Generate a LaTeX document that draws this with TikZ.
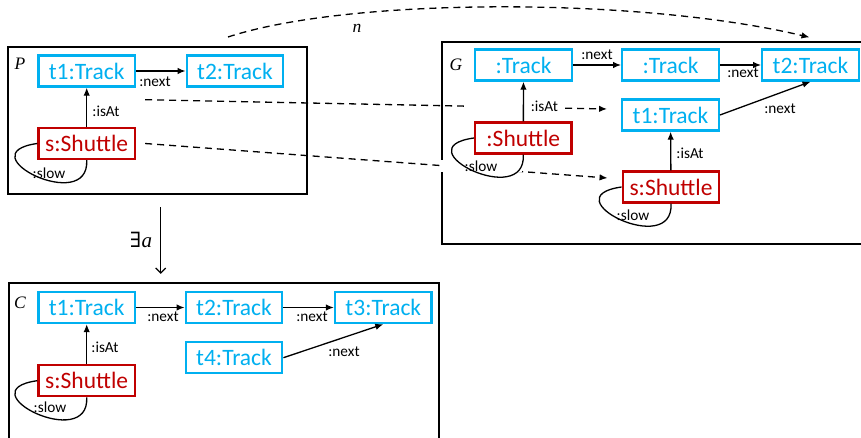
\documentclass[tikz,border=0pt]{standalone}
\usepackage{fontspec}
\setmainfont{Carlito}
\newfontfamily\varfont{Liberation Serif}
\newfontfamily\quantfont{DejaVu Serif}
\usetikzlibrary{arrows.meta}
\definecolor{trackblue}{RGB}{0,176,240}
\definecolor{shuttlered}{RGB}{192,0,0}

\begin{document}
\begin{tikzpicture}[x=1pt,y=-1pt,
  obj/.style={draw, line width=2.4pt, fill=white, minimum width=96.5pt,
    minimum height=31pt, inner sep=0pt, font=\fontsize{23.5}{28}\selectfont},
  track/.style={obj, draw=trackblue, text=trackblue},
  shuttle/.style={obj, draw=shuttlered, text=shuttlered},
  graphframe/.style={draw, line width=1.8pt, inner sep=0pt},
  framelabel/.style={font=\varfont\itshape\fontsize{17.5}{20}\selectfont, inner sep=0pt},
  lbl/.style={font=\fontsize{15.3}{18}\selectfont, inner sep=1pt},
  lblw/.style={lbl, fill=white},
  rel/.style={-{Latex[length=8pt,width=6.5pt]}, line width=1.3pt},
  morph/.style={rel, dash pattern=on 7pt off 5pt},
  loopline/.style={line width=1.3pt}
]
\useasboundingbox (0,0) rectangle (861,438);
\clip (0,0) rectangle (861,438);

% graph frames
\node[graphframe, minimum width=299pt, minimum height=147pt] (Pf) at (157.5,120.5) {};
\node[graphframe, minimum width=488pt, minimum height=202.3pt] (Gf) at (686,142.85) {};
\node[graphframe, minimum width=430pt, minimum height=196.7pt] (Cf) at (224,381.65) {};
\node[framelabel] (Pn) at (20,64) {P};
\node[framelabel] (Gn) at (456,65) {G};
\node[framelabel] (Cn) at (20,303) {C};

% pattern P
\node[track] (Pt1) at (86.7,71) {t1:Track};
\node[track] (Pt2) at (235,71) {t2:Track};
\node[shuttle] (Ps) at (86.7,143.5) {s:Shuttle};

% host graph G
\node[track] (Ga) at (523.5,65) {:Track};
\node[track] (Gb) at (670.5,65) {:Track};
\node[track] (Gt2) at (810.5,65) {t2:Track};
\node[track] (Gt1) at (670.5,115) {t1:Track};
\node[shuttle] (Gsh) at (523.3,138) {:Shuttle};
\node[shuttle] (Gs) at (671,187) {s:Shuttle};

% condition C
\node[track] (Ct1) at (86.7,307.5) {t1:Track};
\node[track] (Ct2) at (234,307.5) {t2:Track};
\node[track] (Ct3) at (383.3,307.5) {t3:Track};
\node[track] (Ct4) at (234,357.7) {t4:Track};
\node[shuttle] (Cs) at (86.7,380.7) {s:Shuttle};

% match n and its element mappings
\coordinate (nstart) at (228,37);
\draw[morph] (nstart) .. controls (350,-3) and (640,-3) .. ([shift={(-1,-11)}]Gt2.north);
\node[framelabel] (nlab) at (357,28) {n};
\draw[morph] ([shift={(9,12)}]Pt1.south east) -- ([shift={(-14,-6)}]Gt1.west);
\draw[morph] ([shift={(9,0)}]Ps.east) -- ([shift={(-14,-9)}]Gs.west);

% condition arrow
\draw[line width=1.3pt, -{Straight Barb[length=5pt,width=10pt]}]
  ([shift={(3.2,12.5)}]Pf.south) -- ([shift={(-63.3,-8.5)}]Cf.north);
\node[framelabel, font=\varfont\itshape\fontsize{21}{24}\selectfont] (ea) at (141,240)
  {{\quantfont\upshape ∃}\kern0.5pt a};

% edge labels
\node[lbl] at (155,82) {:next};
\node[lbl] at (106,111) {:isAt};
\node[lbl] at (49,173) {:slow};

\node[lbl] at (597,55) {:next};
\node[lbl] at (743,73) {:next};
\node[lbl] at (780,109) {:next};
\node[lblw, text width=88pt, align=right, inner xsep=6pt] at (514,106) {:isAt};
\node[lbl] at (690,153) {:isAt};
\node[lblw, minimum width=82pt] at (481,166) {:slow};
\node[lbl] at (633,215) {:slow};

\node[lbl] at (163,317) {:next};
\node[lbl] at (312,317) {:next};
\node[lbl] at (344,352) {:next};
\node[lbl] at (105,347) {:isAt};
\node[lbl] at (50,407) {:slow};

% edges in P
\draw[rel] (Pt1) -- (Pt2);
\draw[rel] (Ps) -- (Pt1);
\draw[loopline] (Ps.west) .. controls +(-72,10) and +(3,55) .. (Ps.south);

% edges in G
\draw[rel] (Ga) -- (Gb);
\draw[rel] (Gb) -- (Gt2);
\draw[rel] (Gt1.east) -- (Gt2.south);
\draw[rel] (Gsh) -- (Ga);
\draw[rel] (Gs) -- (Gt1);
\draw[loopline] (Gsh.west) .. controls +(-72,10) and +(3,55) .. (Gsh.south);
\draw[loopline] (Gs.west) .. controls +(-72,10) and +(3,55) .. (Gs.south);

% edges in C
\draw[rel] (Ct1) -- (Ct2);
\draw[rel] (Ct2) -- (Ct3);
\draw[rel] (Ct4.east) -- (Ct3.south);
\draw[rel] (Cs) -- (Ct1);
\draw[loopline] (Cs.west) .. controls +(-72,10) and +(3,55) .. (Cs.south);
\end{tikzpicture}
\end{document}
